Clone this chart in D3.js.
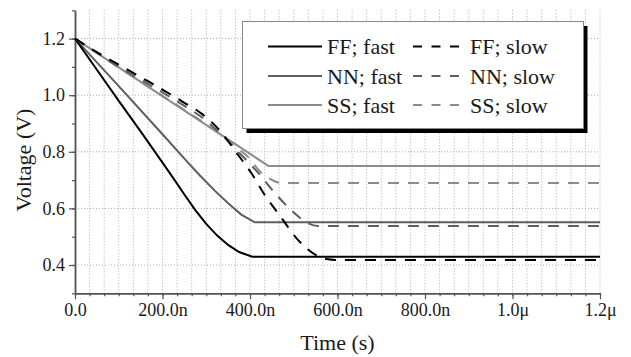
<!DOCTYPE html>
<html>
<head>
<meta charset="utf-8">
<script src="https://cdn.jsdelivr.net/npm/d3@7/dist/d3.min.js"></script>
<style>
  body { margin: 0; background: #fff; }
</style>
</head>
<body>
<div id="chart"></div>
<script>
// time in ns, voltage in V
var xTicks = [0, 200, 400, 600, 800, 1000, 1200];
var xTickLabels = ["0.0", "200.0n", "400.0n", "600.0n", "800.0n", "1.0\u03bc", "1.2\u03bc"];
var yTicks = [0.4, 0.6, 0.8, 1.0, 1.2];
var yTickLabels = ["0.4", "0.6", "0.8", "1.0", "1.2"];

var ffFastTime = [0, 50, 100, 150, 200, 225, 250, 275, 300, 325, 350, 375, 405, 1200];
var ffFastVolt = [1.2, 1.09, 0.98, 0.872, 0.762, 0.706, 0.649, 0.594, 0.545, 0.504, 0.471, 0.446, 0.429, 0.429];

var nnFastTime = [0, 100, 200, 250, 285, 320, 350, 380, 411, 1200];
var nnFastVolt = [1.2, 1.032, 0.862, 0.776, 0.717, 0.662, 0.618, 0.578, 0.551, 0.551];

var ssFastTime = [0, 442, 1200];
var ssFastVolt = [1.2, 0.75, 0.75];

var ffSlowTime = [0, 50, 100, 150, 200, 250, 290, 334, 369, 403, 434, 469, 505, 551, 575, 595, 1200];
var ffSlowVolt = [1.2, 1.152, 1.108, 1.064, 1.02, 0.973, 0.934, 0.87, 0.797, 0.725, 0.647, 0.573, 0.497, 0.435, 0.421, 0.418, 0.418];

var nnSlowTime = [0, 50, 100, 150, 200, 250, 290, 334, 370, 418, 457, 498, 530, 555, 1200];
var nnSlowVolt = [1.2, 1.15, 1.1, 1.055, 1.01, 0.962, 0.922, 0.862, 0.805, 0.727, 0.654, 0.588, 0.55, 0.538, 0.538];

var ssSlowTime = [0, 50, 100, 150, 200, 250, 290, 334, 370, 400, 420, 445, 470, 1200];
var ssSlowVolt = [1.2, 1.149, 1.098, 1.048, 0.998, 0.948, 0.908, 0.86, 0.815, 0.775, 0.735, 0.705, 0.69, 0.69];

var fastNames = ["FF; fast", "NN; fast", "SS; fast"];
var slowNames = ["FF; slow", "NN; slow", "SS; slow"];
var colors = ["#000000", "#5e5e5e", "#8c8c8c"];

var w = 631, h = 357;
var fontName = "Liberation Serif";

var svg = d3.select("#chart").append("svg")
  .attr("width", w)
  .attr("height", h)
  .attr("font-family", fontName);

svg.append("rect").attr("width", w).attr("height", h).attr("fill", "#fff");

var x = d3.scaleLinear().domain([0, 1200]).range([75, 600]);
var y = d3.scaleLinear().domain([0.3, 1.3]).range([293.3, 10.3]);

var xMinor = d3.range(0, 1200.1, 200 / 6);
var yMinor = d3.range(0.3, 1.31, 0.1);

// grid
svg.append("g").selectAll("line")
  .data(xMinor.slice(1))
  .enter().append("line")
  .attr("x1", function(d) { return x(d); })
  .attr("x2", function(d) { return x(d); })
  .attr("y1", y(1.3)).attr("y2", y(0.3))
  .attr("stroke", "#adadad").attr("stroke-width", 1)
  .attr("stroke-dasharray", "1,2");

svg.append("g").selectAll("line")
  .data(yTicks)
  .enter().append("line")
  .attr("x1", x(0)).attr("x2", x(1200))
  .attr("y1", function(d) { return y(d); })
  .attr("y2", function(d) { return y(d); })
  .attr("stroke", "#adadad").attr("stroke-width", 1)
  .attr("stroke-dasharray", "1,2");

// axes
var axisColor = "#555";
function styleAxis(g) {
  g.attr("font-family", fontName).attr("font-size", 18);
  g.selectAll("path").attr("stroke", axisColor).attr("stroke-width", 1.5);
  g.selectAll("line").attr("stroke", axisColor).attr("stroke-width", 1.2);
  g.selectAll("text").attr("font-family", fontName).attr("font-size", 18).attr("fill", "#1a1a1a");
}

svg.append("g").attr("transform", "translate(0," + y(0.3) + ")")
  .call(d3.axisBottom(x).tickValues(xMinor).tickSize(3).tickSizeOuter(0).tickFormat(""))
  .call(styleAxis);
svg.append("g").attr("transform", "translate(0," + y(0.3) + ")")
  .call(d3.axisBottom(x).tickValues(xTicks).tickSize(6).tickSizeOuter(0).tickPadding(4)
    .tickFormat(function(d, i) { return xTickLabels[i]; }))
  .call(styleAxis);

svg.append("g").attr("transform", "translate(" + x(0) + ",0)")
  .call(d3.axisLeft(y).tickValues(yMinor).tickSize(3).tickSizeOuter(0).tickFormat(""))
  .call(styleAxis);
svg.append("g").attr("transform", "translate(" + x(0) + ",0)")
  .call(d3.axisLeft(y).tickValues(yTicks).tickSize(6).tickSizeOuter(0).tickPadding(4)
    .tickFormat(function(d, i) { return yTickLabels[i]; }))
  .call(styleAxis);

// titles
svg.append("text")
  .attr("x", 337.5).attr("y", 350)
  .attr("text-anchor", "middle")
  .attr("font-family", fontName).attr("font-size", 22)
  .attr("fill", "#1a1a1a")
  .text("Time (s)");

svg.append("text")
  .attr("transform", "translate(31,160) rotate(-90)")
  .attr("text-anchor", "middle")
  .attr("font-family", fontName).attr("font-size", 22)
  .attr("fill", "#1a1a1a")
  .text("Voltage (V)");

// curves
function pts(t, v) {
  return t.map(function(d, i) { return [d, v[i]]; });
}
var lineFast = d3.line()
  .x(function(d) { return x(d[0]); })
  .y(function(d) { return y(d[1]); });
var lineSlow = d3.line()
  .curve(d3.curveMonotoneX)
  .x(function(d) { return x(d[0]); })
  .y(function(d) { return y(d[1]); });

var fastSeries = [pts(ffFastTime, ffFastVolt), pts(nnFastTime, nnFastVolt), pts(ssFastTime, ssFastVolt)];
var slowSeries = [pts(ffSlowTime, ffSlowVolt), pts(nnSlowTime, nnSlowVolt), pts(ssSlowTime, ssSlowVolt)];

[2, 1, 0].forEach(function(i) {
  svg.append("path")
    .attr("d", lineFast(fastSeries[i]))
    .attr("fill", "none")
    .attr("stroke", colors[i])
    .attr("stroke-width", 2);
});
[2, 1, 0].forEach(function(i) {
  svg.append("path")
    .attr("d", lineSlow(slowSeries[i]))
    .attr("fill", "none")
    .attr("stroke", colors[i])
    .attr("stroke-width", 2)
    .attr("stroke-dasharray", "11,9");
});

// legend
var lg = svg.append("g");
lg.append("rect")
  .attr("x", 246.5).attr("y", 26).attr("width", 341).attr("height", 107)
  .attr("fill", "#000");
lg.append("rect")
  .attr("x", 242.5).attr("y", 21.5).attr("width", 341).attr("height", 107)
  .attr("fill", "#fff").attr("stroke", "#8a8a8a").attr("stroke-width", 1);

var rowY = [46.5, 76, 105];
fastNames.forEach(function(name, i) {
  lg.append("line")
    .attr("x1", 268).attr("x2", 322)
    .attr("y1", rowY[i]).attr("y2", rowY[i])
    .attr("stroke", colors[i]).attr("stroke-width", 2);
  lg.append("text")
    .attr("x", 327).attr("y", rowY[i] + 7.5)
    .attr("font-family", fontName).attr("font-size", 22)
    .attr("fill", "#1a1a1a")
    .text(name);
});
slowNames.forEach(function(name, i) {
  lg.append("line")
    .attr("x1", 413).attr("x2", 464)
    .attr("y1", rowY[i]).attr("y2", rowY[i])
    .attr("stroke", colors[i]).attr("stroke-width", 2)
    .attr("stroke-dasharray", "9,9.5");
  lg.append("text")
    .attr("x", 470).attr("y", rowY[i] + 7.5)
    .attr("font-family", fontName).attr("font-size", 22)
    .attr("fill", "#1a1a1a")
    .text(name);
});
</script>
</body>
</html>
